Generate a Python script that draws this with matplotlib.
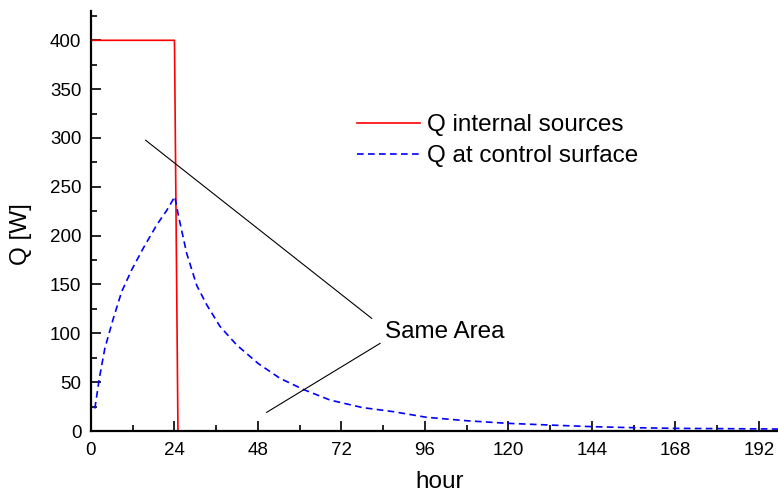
import matplotlib.pyplot as plt
from matplotlib.ticker import MultipleLocator

plt.rcParams['font.family'] = ['Liberation Sans', 'DejaVu Sans']

# internal sources: 400 W for one day, then off
src_hour = [0, 24, 25]
src_q = [400, 400, 0]

# heat flow at the control surface
surf_hour = [1.1, 2.4, 4.0, 6.4, 8.8, 11.7, 15.0, 18.9, 21.8, 24.1,
             25.1, 27.5, 30.4, 33.3, 37.1, 41.9, 48.1, 54.3, 61, 68.7,
             78, 86.9, 96.5, 108, 119.5, 131.9, 144.4, 155.9, 168.4, 182.7, 197.5]
surf_q = [23, 54, 85, 115, 142.5, 165, 187, 211, 226, 240,
          221, 182, 149, 129, 107, 88, 69, 54, 42.6, 31.7,
          24, 19.8, 14, 10.5, 7.9, 6.1, 4.4, 3.4, 2.7, 2.4, 2]

# "Same Area" pointer lines
note_line1_hour = [15.7, 80.7]
note_line1_q = [297.7, 115.3]
note_line2_hour = [50.5, 83.1]
note_line2_q = [19.1, 89.7]

fig = plt.figure(figsize=(7.78, 4.93), dpi=100)
ax = fig.add_axes([91/778, 1 - 431/493, 1 - 91/778, (431 - 11)/493])

ax.plot(src_hour, src_q, color='#ff0000', lw=1.2, label='Q internal sources')
ax.plot(surf_hour, surf_q, color='#0000ff', lw=1.2, linestyle=(0, (4, 2.6)),
        label='Q at control surface')
ax.plot(note_line1_hour, note_line1_q, color='black', lw=0.8)
ax.plot(note_line2_hour, note_line2_q, color='black', lw=0.8)
ax.text(84.5, 95.4, 'Same Area', fontsize=17.5, va='baseline', ha='left')

ax.set_xlim(0, 197.5)
ax.set_ylim(0, 430)
ax.xaxis.set_major_locator(MultipleLocator(24))
ax.xaxis.set_minor_locator(MultipleLocator(12))
ax.yaxis.set_major_locator(MultipleLocator(50))
ax.yaxis.set_minor_locator(MultipleLocator(25))

for s in ['top', 'right']:
    ax.spines[s].set_visible(False)
for s in ['left', 'bottom']:
    ax.spines[s].set_linewidth(1.6)

ax.tick_params(which='both', direction='in', width=1.2, labelsize=13.5)
ax.tick_params(which='major', length=7)
ax.tick_params(which='minor', length=4)
ax.tick_params(axis='x', which='major', pad=8)
ax.tick_params(axis='y', which='major', pad=7)

ax.set_xlabel('hour', fontsize=17.5)
ax.set_ylabel('Q [W]', fontsize=17.5)
ax.xaxis.set_label_coords(0.507, -0.095)
ax.yaxis.set_label_coords(-0.086, 0.47)

ax.legend(loc='upper left', bbox_to_anchor=(357/778, 1 - 114/493),
          bbox_transform=fig.transFigure, frameon=False, fontsize=17.5,
          handlelength=2.6, handletextpad=0.3, labelspacing=0.37,
          borderpad=0, borderaxespad=0)

fig.savefig('out.png', dpi=100)
